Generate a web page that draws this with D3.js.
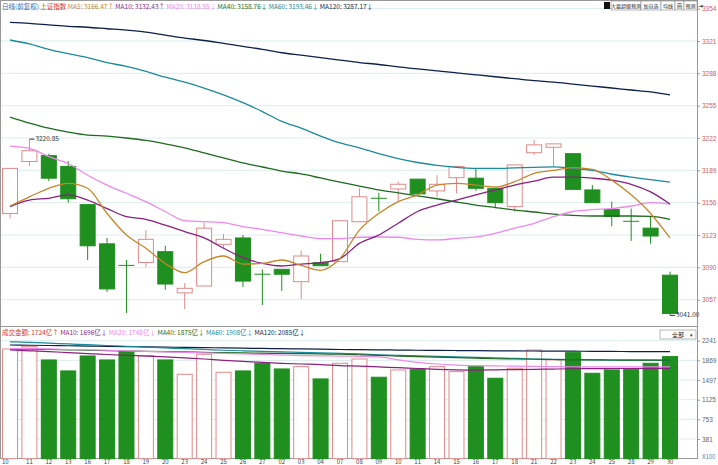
<!DOCTYPE html>
<html><head><meta charset="utf-8">
<script src="https://cdn.jsdelivr.net/npm/d3@7"></script>
<style>body{margin:0;background:#fff}svg{display:block;font-family:"Noto Sans CJK SC","DejaVu Sans",sans-serif}</style>
</head><body><svg id="c" width="718" height="465"></svg>
<script>
const dates=["10","11","12","13","16","17","18","19","20","23","24","25","26","27","02","03","04","07","08","09","10","11","14","15","16","17","18","21","22","23","24","25","28","29","30"];
const open =[3145,3198,3204,3193,3154,3114,3092,3095,3106,3064,3071,3113.5,3120,3083,3088,3075.4,3094.8,3095.8,3136.6,3160.5,3170,3180,3168,3181.5,3181,3170.7,3152,3207,3212.5,3206,3169,3149,3137,3130,3082];
const close=[3191,3209,3181,3160,3112,3068,3092,3118.6,3073,3068.6,3130,3118.6,3076,3083,3083,3101.6,3091.7,3137.6,3162,3160.5,3174.8,3165,3174.8,3193,3170.7,3156,3194.5,3215,3216,3169.6,3156,3142,3137,3122,3043];
const high =[3191,3220.85,3206,3198.5,3154,3120,3097.5,3128,3112,3074,3135.6,3124,3123,3088,3088,3107,3104,3137.6,3170.7,3166,3177.4,3180,3184,3193,3191,3170.7,3194.5,3220,3216,3206,3174,3157,3150,3141.7,3085.6];
const low  =[3140,3193,3178,3156,3097.5,3065,3043.5,3090.7,3067,3047.5,3071,3109.8,3070,3051.6,3066,3057.4,3091.7,3095.8,3136.6,3147,3157,3165,3162,3165.6,3168,3151,3147,3204.6,3192.7,3169.6,3156,3132,3117,3114,3041];
const ma5  =[3152.6,3162,3170.7,3175.8,3170.7,3145,3123,3109.5,3094,3084.6,3095.8,3101.6,3093.4,3094,3097.5,3092,3087,3099,3128,3145,3157,3164,3174,3175.8,3174,3172,3177.4,3186,3189,3191.7,3190,3179,3164,3145,3120];
const ma10 =[3152,3158.7,3160.5,3164,3158.7,3150,3141.7,3139,3133,3126.4,3120,3109.5,3100,3094,3091.4,3093.4,3094.8,3099,3114.5,3123,3135,3147,3153.6,3158.7,3164,3169,3174,3178,3182,3182,3181,3179,3174.8,3167,3154.6];
const ma20 =[3213.8,3211.5,3203,3196,3184,3174,3165.6,3157,3147,3137.6,3136.6,3135.6,3131.5,3128.8,3125.4,3122,3119.3,3119.3,3120.7,3121,3120.7,3118.6,3118,3119.6,3121,3124.7,3130,3135,3141.7,3147,3149,3150,3152.6,3156,3154.6];
const ma40 =[3243.4,3237.3,3232,3228,3225,3224,3222,3219.5,3216,3212,3206.7,3201.6,3196.5,3192.4,3188.3,3185.3,3181.2,3177,3173,3169,3166,3163,3160,3156.7,3153.6,3151,3148.5,3146.5,3144.4,3143,3142.4,3142.4,3142.4,3142,3139];
const ma60 =[3322,3318,3312.5,3308,3304,3299,3295,3290,3284,3279,3273,3266,3258,3249,3239,3232,3224,3217,3212,3206,3201,3197,3194,3192,3191,3191,3191.5,3192,3192.5,3191,3189,3185,3182,3179.5,3177];
const ma120=[3340,3339,3337.5,3336,3335,3333.5,3332,3330,3327,3324,3321.5,3318.5,3315.5,3312.5,3309,3306.5,3304,3301.5,3299,3297,3294.5,3292.5,3290.5,3288.5,3286.5,3284.5,3282.5,3280.5,3279,3277,3275,3273,3271,3269,3266];
const vol  =[2084,2128,1877,1669,1952,1877,2033,1958,1877,1606,1984,1644,1669,1814,1707,1750,1518,1814,1895,1550,1688,1701,1750,1656,1750,1531,1720,2065,1877,2015,1625,1688,1701,1814,1940];
const vma10=[2065,2050,2035,2015,1995,1980,1965,1950,1935,1915,1895,1870,1850,1830,1812,1800,1790,1770,1760,1745,1730,1715,1700,1690,1685,1690,1695,1700,1705,1710,1712,1715,1715,1716,1716];
const vma20=[2090,2095,2085,2075,2070,2060,2050,2040,2030,2020,2010,2000,1990,1980,1970,1960,1955,1950,1945,1935,1880,1830,1800,1780,1770,1765,1760,1755,1750,1748,1746,1745,1745,1745,1745];
const vma40=[2085,2080,2075,2068,2060,2052,2045,2040,2035,2028,2020,2015,2010,2005,2000,1995,1990,1985,1975,1965,1950,1940,1930,1920,1910,1900,1895,1890,1885,1880,1878,1876,1875,1875,1875];
const vma60=[2220,2210,2195,2180,2165,2150,2135,2120,2105,2090,2075,2060,2050,2040,2030,2020,2010,2000,1990,1975,1965,1955,1945,1935,1925,1915,1905,1895,1890,1885,1880,1875,1875,1875,1870];
const vma120=[2160,2155,2150,2145,2140,2135,2130,2125,2120,2115,2110,2105,2100,2095,2090,2085,2080,2075,2072,2068,2064,2060,2058,2055,2052,2050,2048,2046,2044,2042,2040,2038,2036,2035,2033];
const priceTicks=[3354,3321,3288,3255,3222,3189,3156,3123,3090,3057];
const volTicks=[2241,1869,1497,1125,753,381];

const svg=d3.select("#c");
const R=697;
const x=d3.scalePoint().domain(d3.range(dates.length)).range([10,670]);
const y=d3.scaleLinear().domain([3057,3222]).range([299.7,138]);
const yv=d3.scaleLinear().domain([9,2241]).range([458.7,340.7]);
const green="#1f8f1f", red="#e08a8a";

svg.append("rect").attr("x",0.5).attr("y",0.5).attr("width",R).attr("height",458).attr("fill","none").attr("stroke","#999");
svg.append("line").attr("x1",0).attr("x2",R).attr("y1",326.5).attr("y2",326.5).attr("stroke","#999");
svg.append("g").selectAll("line").data(priceTicks).join("line").attr("x1",1).attr("x2",R).attr("y1",d=>y(d)).attr("y2",d=>y(d)).attr("stroke","#dcecef");
svg.append("g").selectAll("line").data(volTicks).join("line").attr("x1",1).attr("x2",R).attr("y1",d=>yv(d)).attr("y2",d=>yv(d)).attr("stroke","#dcecef");
const ay=d3.axisRight(y).tickValues(priceTicks).tickSize(3).tickFormat(d3.format("d"));
const gA=svg.append("g").attr("transform",`translate(${R},0)`).call(ay);
gA.select(".domain").remove();
gA.selectAll("text").attr("fill","#d06060").attr("font-size",6.5).attr("x",5);
gA.selectAll("line").attr("stroke","#999");
const av=d3.axisRight(yv).tickValues(volTicks).tickSize(3).tickFormat(d3.format("d"));
const gV=svg.append("g").attr("transform",`translate(${R},0)`).call(av);
gV.select(".domain").remove();
gV.selectAll("text").attr("fill","#666").attr("font-size",6.5).attr("x",5);
gV.selectAll("line").attr("stroke","#999");
svg.append("text").attr("x",702).attr("y",459).attr("font-size",6).attr("fill","#4a90c0").text("X100");

const idx=d3.range(dates.length);
const bw=16;
const cg=svg.append("g");
idx.forEach(i=>{
  const up=close[i]>open[i], flat=Math.abs(close[i]-open[i])<0.3;
  const col=up?red:green;
  const top=y(Math.max(open[i],close[i])), bot=y(Math.min(open[i],close[i]));
  cg.append("line").attr("x1",x(i)).attr("x2",x(i)).attr("y1",y(high[i])).attr("y2",top).attr("stroke",col);
  cg.append("line").attr("x1",x(i)).attr("x2",x(i)).attr("y1",bot).attr("y2",y(low[i])).attr("stroke",col);
  if(flat) cg.append("line").attr("x1",x(i)-bw/2).attr("x2",x(i)+bw/2).attr("y1",top).attr("y2",top).attr("stroke",green);
  else cg.append("rect").attr("x",x(i)-bw/2+0.5).attr("y",top).attr("width",bw-1).attr("height",Math.max(1,bot-top))
     .attr("fill",up?"#fff":green).attr("stroke",col);
});
const line=d3.line().x((d,i)=>x(i)).y(d=>y(d)).curve(d3.curveMonotoneX);
[[ma120,"#0d1f4a"],[ma60,"#1a8a9a"],[ma40,"#1e6b1e"],[ma20,"#ee88ee"],[ma10,"#8b1f7f"],[ma5,"#c8862a"]].forEach(([d,c])=>
  svg.append("path").attr("d",line(d)).attr("fill","none").attr("stroke",c).attr("stroke-width",1.3));
const iMax=d3.maxIndex(high), iMin=d3.minIndex(low);
svg.append("line").attr("x1",x(iMax)).attr("x2",x(iMax)+5).attr("y1",y(high[iMax])).attr("y2",y(high[iMax])).attr("stroke","#333");
svg.append("text").attr("x",x(iMax)+6).attr("y",y(high[iMax])+2).attr("font-size",6.5).attr("fill","#333").text(high[iMax].toFixed(2));
svg.append("line").attr("x1",x(iMin)).attr("x2",x(iMin)+5).attr("y1",y(low[iMin])).attr("y2",y(low[iMin])).attr("stroke","#333");
svg.append("text").attr("x",x(iMin)+6).attr("y",y(low[iMin])+2).attr("font-size",6.5).attr("fill","#333").text(low[iMin].toFixed(2));

idx.forEach(i=>{
  const up=close[i]>open[i];
  svg.append("rect").attr("x",x(i)-bw/2+0.5).attr("y",yv(vol[i])).attr("width",bw-1).attr("height",yv(9)-yv(vol[i]))
    .attr("fill",up?"#fff":green).attr("stroke",up?red:green);
});
const vline=d3.line().x((d,i)=>x(i)).y(d=>yv(d)).curve(d3.curveMonotoneX);
[[vma120,"#0d1f4a"],[vma60,"#1a8a9a"],[vma40,"#1e6b1e"],[vma20,"#ee88ee"],[vma10,"#8b1f7f"]].forEach(([d,c])=>
  svg.append("path").attr("d",vline(d)).attr("fill","none").attr("stroke",c).attr("stroke-width",1.2));

svg.append("g").selectAll("text").data(idx).join("text").attr("x",i=>i===0?2:x(i)).attr("y",464)
  .attr("text-anchor",i=>i===0?"start":"middle").attr("font-size",6).attr("fill","#444").text(i=>dates[i]);

function legend(yy,items){
  let t=svg.append("text").attr("x",2).attr("y",yy).attr("font-size",6.5);
  items.forEach(([s,c])=>t.append("tspan").attr("fill",c).text(s));
}
legend(9,[["日线(前复权) ","#3366aa"],["上证指数 ","#e03030"],["MA5: 3166.47↑ ","#c8862a"],["MA10: 3132.43↑ ","#8b1f7f"],["MA20: 3118.55↓ ","#ee88ee"],["MA40: 3158.76↓ ","#1e6b1e"],["MA60: 3193.46↓ ","#1a8a9a"],["MA120: 3287.17↓","#0d1f4a"]]);
legend(335,[["成交金额: 1724亿↑ ","#e03030"],["MA10: 1696亿↓ ","#8b1f7f"],["MA20: 1745亿↓ ","#ee88ee"],["MA40: 1875亿↓ ","#1e6b1e"],["MA60: 1908亿↓ ","#1a8a9a"],["MA120: 2085亿↓","#0d1f4a"]]);

const btns=[["大盘超级预测",611,30],["加自选",641,20],["均线",661,14],["画",675,9],["预测",684,13]];
svg.append("rect").attr("x",604).attr("y",2).attr("width",6).attr("height",7).attr("fill","#111");
btns.forEach(([s,bx,w])=>{
  svg.append("rect").attr("x",bx).attr("y",1).attr("width",w).attr("height",9).attr("fill","#fff").attr("stroke","#888").attr("stroke-width",0.6);
  svg.append("text").attr("x",bx+w/2).attr("y",8).attr("text-anchor","middle").attr("font-size",w<12?5.5:5).attr("fill","#222").text(s);
});
svg.append("text").attr("x",698).attr("y",8).attr("font-size",6).attr("fill","#222").text("⇥");
svg.append("rect").attr("x",660).attr("y",330).attr("width",36).attr("height",9).attr("fill","#fff").attr("stroke","#888").attr("stroke-width",0.6);
svg.append("text").attr("x",672).attr("y",337).attr("font-size",6).attr("fill","#222").text("全部");
svg.append("text").attr("x",690).attr("y",337).attr("font-size",5).attr("fill","#222").text("▾");
</script></body></html>
